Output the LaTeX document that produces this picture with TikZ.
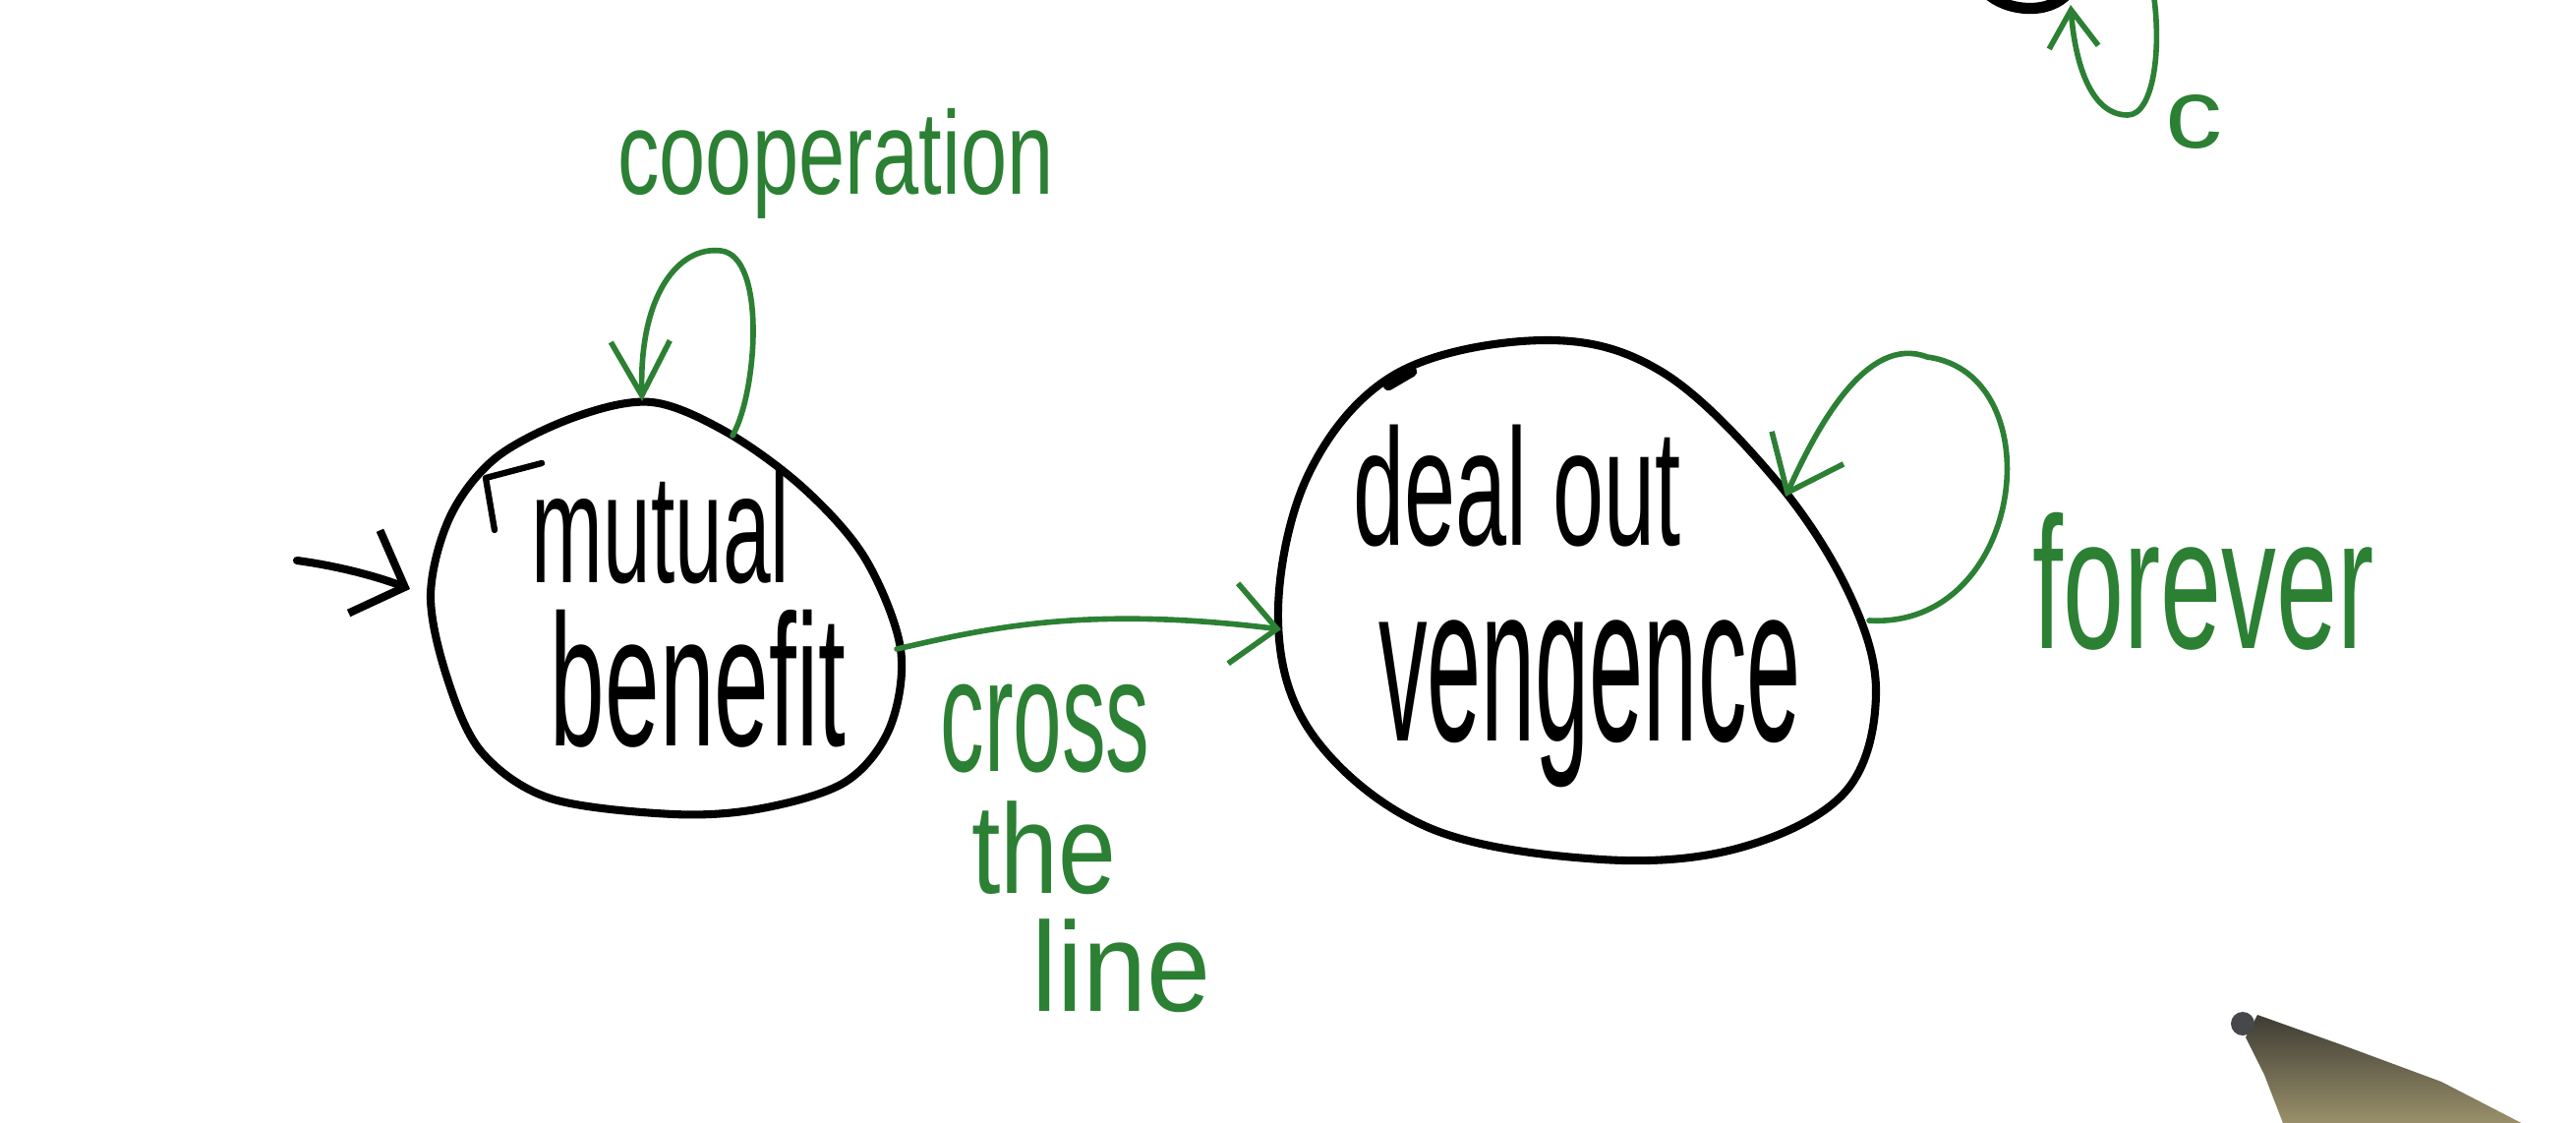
\documentclass[tikz,border=0pt]{standalone}
\usepackage{fontspec}
\setmainfont{Liberation Sans}
\usetikzlibrary{arrows.meta}
\definecolor{pengreen}{RGB}{44,128,52}
\definecolor{pendark}{RGB}{62,60,52}
\definecolor{penlight}{RGB}{160,150,110}
\definecolor{pentip}{RGB}{70,72,76}
\newcommand{\hwtext}[3]{\resizebox*{#1}{#2}{#3}}
\begin{document}
\begin{tikzpicture}[x=0.01cm,y=-0.01cm,
  statestroke/.style={line width=2.3pt, black, line cap=round, line join=round},
  greenedge/.style={line width=1.6pt, pengreen, line cap=round, line join=round},
  blackedge/.style={line width=2.3pt, black, line cap=round, line join=round},
  greenlabel/.style={text=pengreen, inner sep=0pt, anchor=center},
  statelabel/.style={text=black, inner sep=0pt, anchor=center}]
\useasboundingbox (0,0) rectangle (2620,1142);
\fill[white] (0,0) rectangle (2620,1142);

% ---- state: mutual benefit ----
\draw[statestroke] plot[smooth cycle, tension=0.55] coordinates {
  (585,424) (663,409) (740,440) (818,497) (880,568) (916,660) (905,740)
  (860,795) (775,822) (685,828) (560,812) (490,765) (455,690) (438,605)
  (458,525) (505,465)};
\draw[blackedge, line width=1.8pt] (503,539) -- (494,486) -- (551,471);
\node[statelabel] (mutual) at (672,536) {\hwtext{2.62cm}{1.16cm}{mutual}};
\node[statelabel] (benefit) at (710,690) {\hwtext{3.0cm}{1.40cm}{benefit}};

% ---- state: deal out vengence ----
\draw[statestroke] plot[smooth cycle, tension=0.6] coordinates {
  (1571,346) (1690,378) (1805,487) (1880,602) (1908,705) (1877,805)
  (1770,862) (1629,874) (1454,842) (1337,750) (1300,632) (1330,484)
  (1420,380)};
\draw[blackedge, line width=3pt] (1412,392) -- (1436,378);
\node[statelabel] (deal) at (1543,494) {\hwtext{3.33cm}{1.24cm}{deal out}};
\node[statelabel] (veng) at (1617,716) {\hwtext{4.29cm}{1.70cm}{vengence}};

% ---- attachment points ----
\coordinate (initA) at (302,570);
\coordinate (initB) at (417,599);
\coordinate (lA) at (745,443);
\coordinate (lT) at (733,255);
\coordinate (lB) at (653,408);
\coordinate (tA) at (912,660);
\coordinate (tB) at (1303,640);
\coordinate (rA) at (1901,631);
\coordinate (rT) at (1960,363);
\coordinate (rB) at (1816,505);

% ---- connectors ----
\draw[blackedge, -{Straight Barb[length=0.44cm,width=0.9cm]}] (initA) .. controls (340,575) and (380,585) .. (initB);
\draw[greenedge, -{Straight Barb[length=0.55cm,width=0.6cm]}]
  (lA) .. controls (770,400) and (780,260) .. (lT)
       .. controls (690,250) and (650,300) .. (lB);
\draw[greenedge, -{Straight Barb[length=0.45cm,width=0.82cm]}]
  (tA) .. controls (1000,640) and (1100,615) .. (tB);
\draw[greenedge, -{Straight Barb[length=0.5cm,width=0.8cm]}]
  (rA) .. controls (2060,640) and (2090,380) .. (rT)
       .. controls (1900,340) and (1850,430) .. (rB);

% ---- labels ----
\node[greenlabel] (coop) at (850,166) {\hwtext{4.43cm}{1.12cm}{cooperation}};
\node[greenlabel] (cross) at (1063,741) {\hwtext{2.13cm}{0.90cm}{cross}};
\node[greenlabel] (the) at (1062,862) {\hwtext{1.47cm}{0.95cm}{the}};
\node[greenlabel] (line) at (1141,982) {\hwtext{1.82cm}{0.95cm}{line}};
\node[greenlabel] (forever) at (2241,591) {\hwtext{3.47cm}{1.40cm}{forever}};

% ---- partial state and loop at the top edge ----
\begin{scope}
\clip (0,0) rectangle (2620,1142);
\draw[blackedge, line width=3.2pt] (2020,-8) .. controls (2040,12) and (2085,16) .. (2104,-8);
\coordinate (trA) at (2189,-15);
\coordinate (trM) at (2164,117);
\coordinate (trB) at (2106,5);
\draw[greenedge, -{Straight Barb[length=0.38cm,width=0.5cm]}]
  (trA) .. controls (2200,50) and (2190,117) .. (trM)
        .. controls (2125,117) and (2110,60) .. (trB);
\node[greenlabel] (clabel) at (2231,124) {\hwtext{0.58cm}{0.55cm}{c}};

% ---- pen at the lower right ----
\shade[shading angle=30, top color=pendark, bottom color=penlight]
  (2296,1032) -- (2383,1063) -- (2483,1100) -- (2580,1150) -- (2325,1150)
  -- (2303,1093) -- (2284,1055) -- cycle;
\fill[pentip] (2281,1041) circle[radius=0.12cm];
\end{scope}
\end{tikzpicture}
\end{document}
